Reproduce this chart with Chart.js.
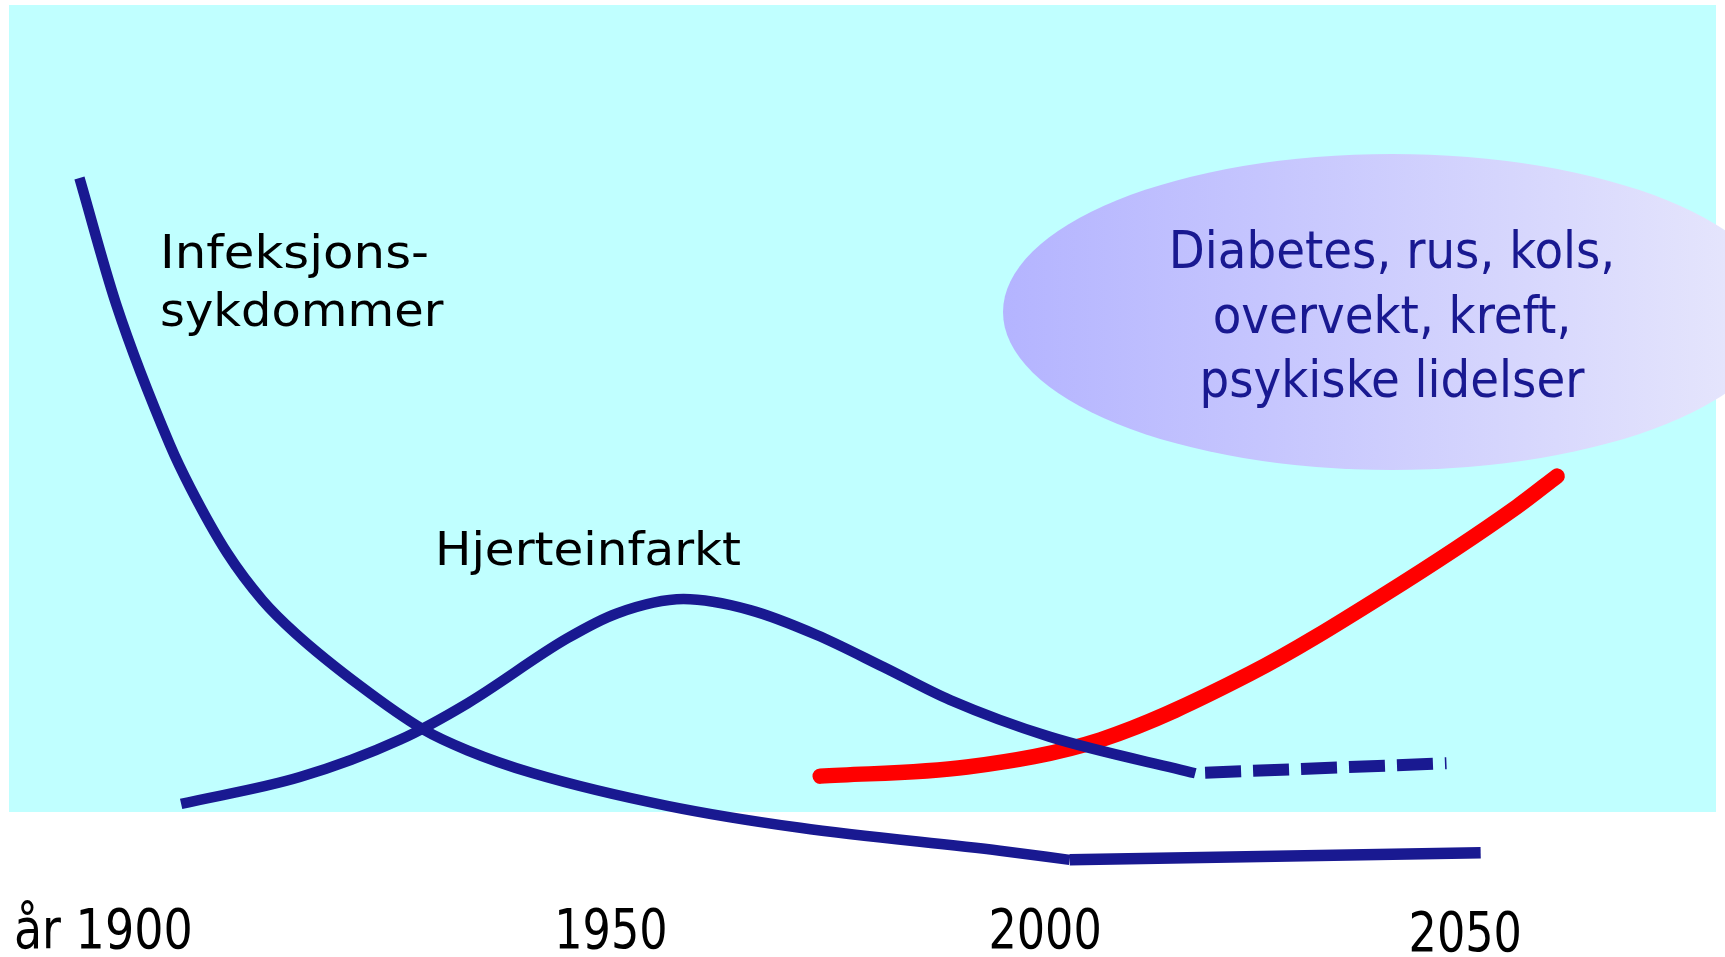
<!DOCTYPE html>
<html>
<head>
<meta charset="utf-8">
<script src="https://cdn.jsdelivr.net/npm/chart.js@4.4.1/dist/chart.umd.min.js"></script>
<style>
  html, body { margin: 0; padding: 0; background: #fff; overflow: hidden; }
</style>
</head>
<body>
<canvas id="chart" width="1725" height="957"></canvas>
<script>
// values: x = year, y = relative disease burden (0-100)
const infectionYears  = [1887.8, 1892.1, 1898.4, 1900.8, 1905.1, 1909.2, 1913.05, 1920.7, 1928.0, 1933.2, 1940.9, 1956.6, 1972.15, 1995.55, 2003.7];
const infectionValues = [81.4, 68.2, 53.5, 49.0, 42.2, 37.3, 33.85, 28.3, 23.8, 21.6, 19.2, 15.8, 13.5, 11.1, 10.15];
const infectionTailYears  = [2003.7, 2051.8];
const infectionTailValues = [10.15, 10.9];

const heartYears  = [1899.7, 1913.6, 1925.3, 1933.2, 1944.9, 1950.7, 1958.5, 1966.3, 1974.1, 1981.9, 1989.7, 2001.4, 2018.4];
const heartValues = [16.0, 18.8, 22.7, 26.5, 33.3, 35.9, 37.4, 36.25, 33.65, 30.3, 26.85, 23.0, 19.2];
const heartForecastYears  = [2019.55, 2047.8];
const heartForecastValues = [19.26, 20.24];

const lifestyleYears  = [1974.5, 1991.7, 2007.3, 2024.8, 2040.4, 2056.05, 2060.75];
const lifestyleValues = [18.9, 19.85, 22.7, 29.6, 37.8, 47.05, 50.25];

const tickYears  = [1900, 1950, 2000, 2050];
const tickLabels = ['år 1900', '1950', '2000', '2050'];

const bubbleLines = ['Diabetes, rus, kols,', 'overvekt, kreft,', 'psykiske lidelser'];

const NAVY = '#191991';
const toPoints = (xs, ys) => xs.map((x, i) => ({ x: x, y: ys[i] }));

// text helper: horizontal squeeze/stretch to get close to the slide fonts
function drawText(ctx, text, x, y, align, sx) {
    ctx.save();
    ctx.textAlign = align;
    ctx.translate(x, y);
    ctx.scale(sx, 1);
    ctx.fillText(text, 0, 0);
    ctx.restore();
}

// background panel, the bubble, and all the loose texts
const slideDecor = {
    id: 'slideDecor',
    beforeDatasetsDraw(chart) {
        const ctx = chart.ctx;
        ctx.save();
        ctx.fillStyle = '#c0ffff';
        ctx.fillRect(9, 5, 1707, 807);

        const grad = ctx.createLinearGradient(1003, 0, 1781, 0);
        grad.addColorStop(0, '#b4b4ff');
        grad.addColorStop(1, '#e8e8fc');
        ctx.fillStyle = grad;
        ctx.beginPath();
        ctx.ellipse(1392, 312, 389, 158, 0, 0, Math.PI * 2);
        ctx.fill();
        ctx.restore();
    },
    afterDatasetsDraw(chart) {
        const ctx = chart.ctx;
        const xs = chart.scales.x;
        ctx.save();
        ctx.textBaseline = 'alphabetic';

        // curve labels
        ctx.fillStyle = '#000';
        ctx.font = '47px "DejaVu Sans"';
        drawText(ctx, 'Infeksjons-', 160, 268, 'left', 1.06);
        drawText(ctx, 'sykdommer', 160, 326, 'left', 1.02);
        drawText(ctx, 'Hjerteinfarkt', 435, 565, 'left', 1.03);

        // bubble text
        ctx.fillStyle = NAVY;
        ctx.font = '52px "DejaVu Sans Condensed"';
        bubbleLines.forEach((line, i) => drawText(ctx, line, 1392, 268 + i * 64.5, 'center', 1));

        // year labels under the curves
        ctx.fillStyle = '#000';
        ctx.font = '55px "DejaVu Sans Condensed"';
        const nudge = [9, 0, 7, 0];
        tickYears.forEach((yr, i) => {
            const px = xs.getPixelForValue(yr) + nudge[i];
            drawText(ctx, tickLabels[i], px, i === 3 ? 951 : 948, i === 0 ? 'right' : 'center', i === 0 ? 0.93 : 0.9);
        });
        ctx.restore();
    }
};

const curve = (data, color, width, extra) => Object.assign({
    data: data,
    borderColor: color,
    borderWidth: width,
    pointRadius: 0,
    fill: false,
    cubicInterpolationMode: 'monotone',
    borderCapStyle: 'butt',
    borderJoinStyle: 'round'
}, extra || {});

new Chart(document.getElementById('chart'), {
    type: 'line',
    data: {
        datasets: [
            curve(toPoints(infectionYears, infectionValues), NAVY, 10.5),
            curve(toPoints(infectionTailYears, infectionTailValues), NAVY, 11.5, { cubicInterpolationMode: 'default', tension: 0 }),
            curve(toPoints(heartYears, heartValues), NAVY, 10.5),
            curve(toPoints(heartForecastYears, heartForecastValues), NAVY, 12, { cubicInterpolationMode: 'default', tension: 0, borderDash: [36, 12] }),
            curve(toPoints(lifestyleYears, lifestyleValues), '#ff0000', 15.5, { borderCapStyle: 'round' })
        ]
    },
    options: {
        responsive: false,
        animation: false,
        layout: { padding: 0 },
        plugins: {
            legend: { display: false },
            tooltip: { enabled: false }
        },
        scales: {
            x: { type: 'linear', min: 1878.5, max: 2080.4, display: false },
            y: { type: 'linear', min: 0, max: 100, display: false }
        }
    },
    plugins: [slideDecor]
});
</script>
</body>
</html>
